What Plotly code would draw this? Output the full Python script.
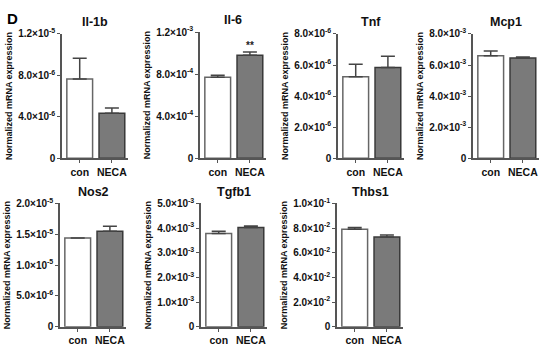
import plotly.graph_objects as go

genes = ["Il-1b", "Il-6", "Tnf", "Mcp1", "Nos2", "Tgfb1", "Thbs1"]
groups = ["con", "NECA"]
con_mean = [7.65e-6, 7.7e-4, 5.25e-6, 6.6e-3, 1.44e-5, 3.78e-3, 7.92e-2]
con_err = [2.0e-6, 0.2e-4, 0.8e-6, 0.3e-3, 0.0, 0.09e-3, 0.13e-2]
neca_mean = [4.35e-6, 9.8e-4, 5.84e-6, 6.45e-3, 1.55e-5, 4.03e-3, 7.29e-2]
neca_err = [0.5e-6, 0.3e-4, 0.72e-6, 0.06e-3, 0.08e-5, 0.06e-3, 0.16e-2]

tick_vals = [
    [0, 4e-6, 8e-6, 1.2e-5],
    [0, 4e-4, 8e-4, 1.2e-3],
    [0, 2e-6, 4e-6, 6e-6, 8e-6],
    [0, 2e-3, 4e-3, 6e-3, 8e-3],
    [0, 5e-6, 1e-5, 1.5e-5, 2e-5],
    [0, 1e-3, 2e-3, 3e-3, 4e-3, 5e-3],
    [0, 2e-2, 4e-2, 6e-2, 8e-2, 1e-1],
]
tick_text = [
    ["0", "4.0×10<sup>-6</sup>", "8.0×10<sup>-6</sup>", "1.2×10<sup>-5</sup>"],
    ["0", "4.0×10<sup>-4</sup>", "8.0×10<sup>-4</sup>", "1.2×10<sup>-3</sup>"],
    ["0", "2.0×10<sup>-6</sup>", "4.0×10<sup>-6</sup>", "6.0×10<sup>-6</sup>", "8.0×10<sup>-6</sup>"],
    ["0", "2.0×10<sup>-3</sup>", "4.0×10<sup>-3</sup>", "6.0×10<sup>-3</sup>", "8.0×10<sup>-3</sup>"],
    ["0", "5.0×10<sup>-6</sup>", "1.0×10<sup>-5</sup>", "1.5×10<sup>-5</sup>", "2.0×10<sup>-5</sup>"],
    ["0", "1.0×10<sup>-3</sup>", "2.0×10<sup>-3</sup>", "3.0×10<sup>-3</sup>", "4.0×10<sup>-3</sup>", "5.0×10<sup>-3</sup>"],
    ["0", "2.0×10<sup>-2</sup>", "4.0×10<sup>-2</sup>", "6.0×10<sup>-2</sup>", "8.0×10<sup>-2</sup>", "1.0×10<sup>-1</sup>"],
]
y_title = "Normalized mRNA expression"

W, H = 550, 353
# panel layout in pixels: (x0 of y axis, top, bottom)
panels = [
    (62, 28, 157), (200, 26, 157), (338, 28, 157), (473, 28, 157),
    (60, 204, 332), (201, 204, 332), (337, 204, 332),
]
PW = 66
FONT = "Liberation Sans, Arial, sans-serif"
AX = "#555555"

fig = go.Figure()
for i, g in enumerate(genes):
    n = i + 1
    xa = "x" if n == 1 else f"x{n}"
    ya = "y" if n == 1 else f"y{n}"
    fig.add_trace(go.Bar(
        x=groups, y=[con_mean[i], neca_mean[i]],
        xaxis=xa, yaxis=ya, width=0.8,
        marker=dict(color=["#ffffff", "#7a7a7a"],
                    line=dict(color=["#666666", "#3a3a3a"], width=1.5)),
        error_y=dict(type="data", symmetric=False,
                     array=[con_err[i], neca_err[i]], arrayminus=[0, 0],
                     color="#444444", thickness=1.5, width=7),
        showlegend=False,
    ))
    x0, top, bot = panels[i]
    xd = [x0 / W, (x0 + PW) / W]
    yd = [1 - bot / H, 1 - top / H]
    fig.layout[f"xaxis{'' if n == 1 else n}"] = dict(
        domain=xd, anchor=ya, type="category", range=[-0.55, 1.5],
        showline=True, linecolor=AX, linewidth=1.5,
        ticks="outside", ticklen=3, tickcolor=AX, tickwidth=1,
        tickvals=groups, ticktext=[f"<b>{t}</b>" for t in groups],
        tickfont=dict(family=FONT, size=10.5, color="#111"),
        showgrid=False, zeroline=False, fixedrange=True,
    )
    fig.layout[f"yaxis{'' if n == 1 else n}"] = dict(
        domain=yd, anchor=xa, range=[0, tick_vals[i][-1]],
        showline=True, linecolor=AX, linewidth=1.5,
        ticks="outside", ticklen=3, tickcolor=AX, tickwidth=1,
        tickvals=tick_vals[i], ticktext=[f"<b>{t}</b>" for t in tick_text[i]],
        tickfont=dict(family=FONT, size=10, color="#111"),
        showgrid=False, zeroline=False, fixedrange=True,
    )
    # subplot title
    fig.add_annotation(text=f"<b>{g}</b>", xref="paper", yref="paper",
                       x=(x0 + 33) / W, y=1 - (top - 12) / H,
                       showarrow=False, font=dict(family=FONT, size=12.5, color="#111"),
                       xanchor="center", yanchor="middle")
    # y-axis title
    fig.add_annotation(text=f"<b>{y_title}</b>", xref="paper", yref="paper",
                       x=(x0 - 53) / W, y=1 - ((top + bot) / 2) / H,
                       textangle=-90, showarrow=False,
                       font=dict(family=FONT, size=9, color="#111"),
                       xanchor="center", yanchor="middle")

# significance marker on Il-6 NECA
fig.add_annotation(text="<b>**</b>", xref="x2", yref="y2",
                   x="NECA", y=neca_mean[1] + neca_err[1],
                   showarrow=False, yanchor="bottom", yshift=-1,
                   font=dict(family=FONT, size=10, color="#222"))

# panel letter
fig.add_annotation(text="<b>D</b>", xref="paper", yref="paper",
                   x=12 / W, y=1 - 12 / H, showarrow=False,
                   font=dict(family=FONT, size=15, color="#000"),
                   xanchor="center", yanchor="middle")

fig.update_layout(width=W, height=H, margin=dict(l=0, r=0, t=0, b=0),
                  paper_bgcolor="white", plot_bgcolor="white",
                  bargap=0.2)
fig.write_html("out.html", config={"displayModeBar": False},
               post_script="document.body.style.margin='0';document.body.style.overflow='hidden';")
